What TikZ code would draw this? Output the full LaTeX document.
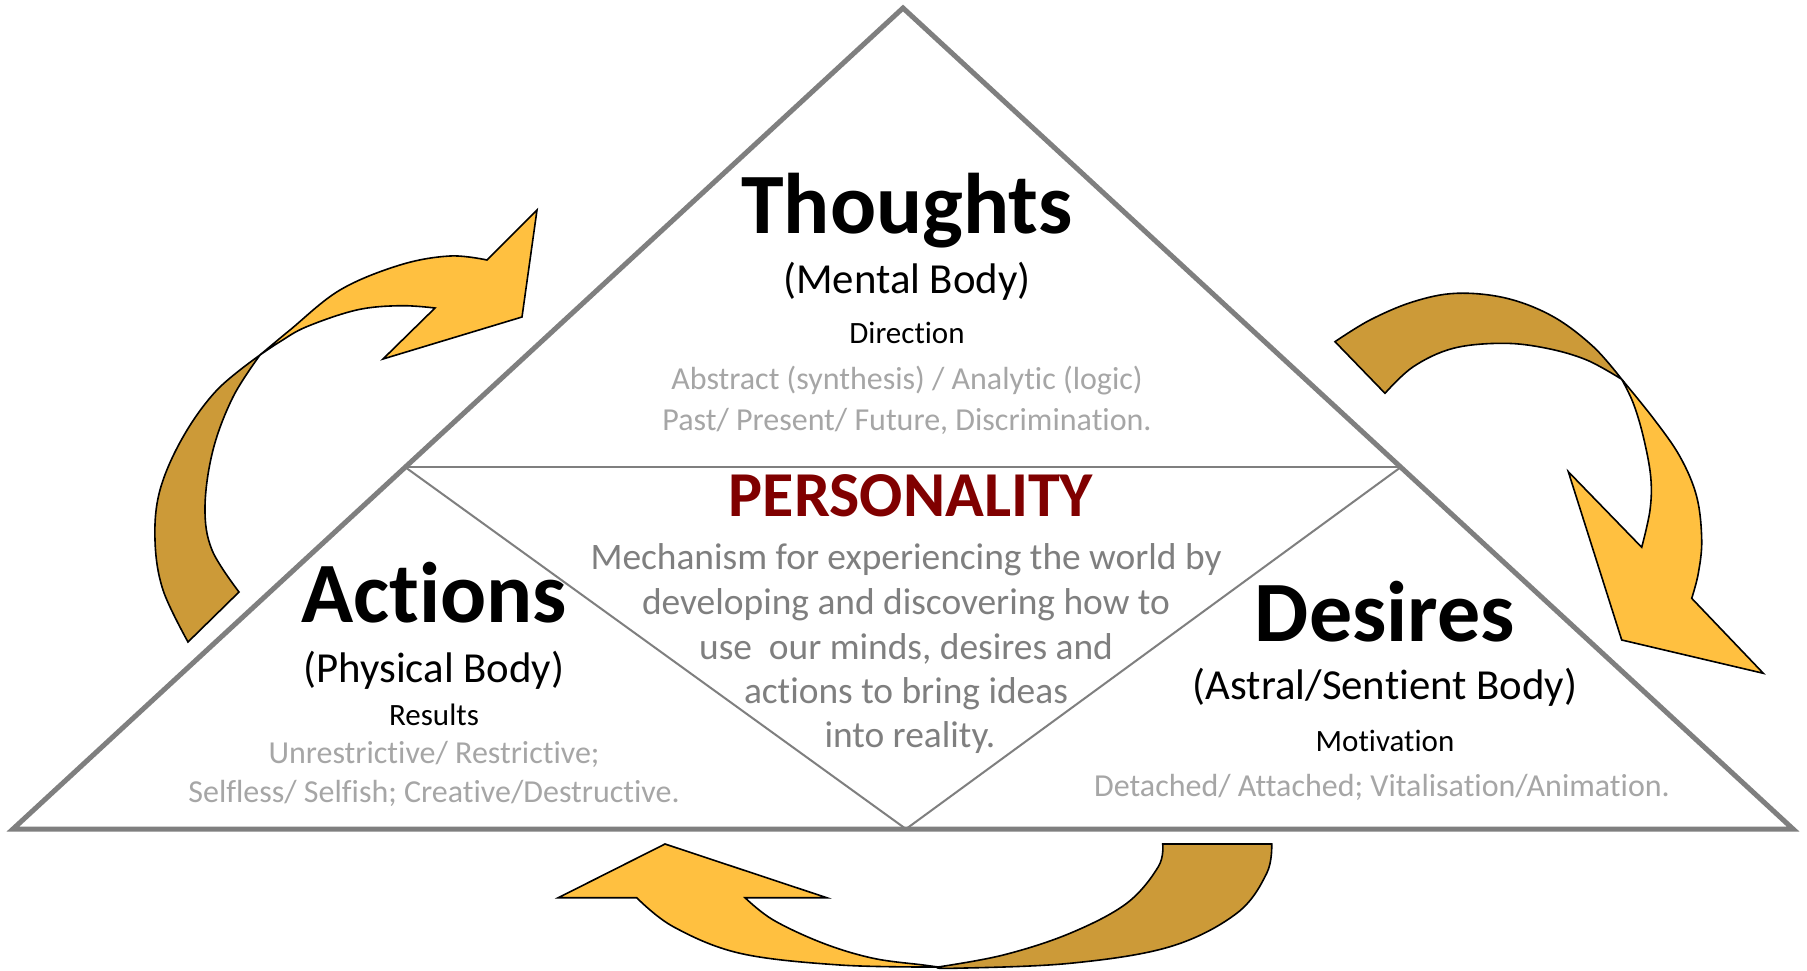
\documentclass[tikz,border=0pt]{standalone}
\usepackage{fontspec}
\setmainfont[Ligatures=NoCommon]{Carlito}
\definecolor{lightgold}{RGB}{255,192,64}
\definecolor{darkgold}{RGB}{204,154,56}
\definecolor{edgegray}{RGB}{127,127,127}
\definecolor{softgray}{RGB}{166,166,166}
\definecolor{deepred}{RGB}{128,0,0}
\begin{document}
\begin{tikzpicture}[x=1pt,y=-1pt,
  txt/.style={anchor=base,inner sep=0pt},
  title/.style={txt,font=\fontsize{86}{100}\selectfont\bfseries},
  sub/.style={txt,font=\fontsize{42.8}{50}\selectfont},
  keyword/.style={txt,font=\fontsize{31}{37}\selectfont},
  note/.style={txt,font=\fontsize{32}{38}\selectfont,text=softgray},
  para/.style={txt,font=\fontsize{37.4}{45}\selectfont,text=edgegray},
  heading/.style={txt,font=\fontsize{64}{76}\selectfont\bfseries,text=deepred},
  outer/.style={draw=edgegray,line width=5pt,line join=miter},
  inner/.style={draw=edgegray,line width=2pt},
  frontpart/.style={fill=lightgold,draw=black,line width=1.6pt,line join=miter},
  backpart/.style={fill=darkgold,draw=black,line width=1.6pt,line join=miter}]
\useasboundingbox (0,0) rectangle (1807,971);
\fill[white] (0,0) rectangle (1807,971);

% triangle
\coordinate (apex) at (903,8);
\coordinate (bl) at (13,829);
\coordinate (br) at (1793,829);
\coordinate (ml) at (405,467);
\coordinate (mr) at (1401,467);
\coordinate (bm) at (906,829);
\draw[inner] (ml) -- (mr);
\draw[inner] (ml) -- (bm) -- (mr);
\draw[outer] (apex) -- (bl) -- (br) -- cycle;

% left arrow
\path[backpart] (188,642) -- plot[smooth,tension=0.6] coordinates {(188,642) (163,590) (155,540) (160,490) (183,437) (217,390) (260,355)}
  -- plot[smooth,tension=0.6] coordinates {(260,355) (233,397) (213,450) (205,507) (212,550) (239,592)} -- cycle;
\path[frontpart] (260,355) -- plot[smooth,tension=0.6] coordinates {(260,355) (290,330) (340,290) (400,265) (450,256) (487,260)}
  -- (537,210) -- (522,317) -- (383,359)
  -- plot[smooth,tension=0.6] coordinates {(435,308) (400,305.7) (356.7,310) (306.7,326.7) (280,341.7) (260,355)} -- cycle;

% right arrow
\path[backpart] (1335,341.7) -- plot[smooth,tension=0.6] coordinates {(1335,341.7) (1370,320) (1413.3,301.7) (1456.7,293.3) (1506.7,298.3) (1553.3,316.7) (1593.3,346.7) (1621.7,379.3)}
  -- plot[smooth,tension=0.6] coordinates {(1621.7,379.3) (1586.7,360) (1546.7,348.3) (1503.3,343.3) (1453.3,348.3) (1413.3,366.7) (1385,393.3)} -- cycle;
\path[frontpart] (1621.7,379.3) -- plot[smooth,tension=0.6] coordinates {(1621.7,379.3) (1653.3,418.3) (1680,456.7) (1696.7,496.7) (1701.7,540) (1698.3,573.3) (1691.7,598.3)}
  -- (1763.3,673.3) -- (1621.7,640) -- (1568.3,471.7)
  -- plot[smooth,tension=0.6] coordinates {(1641.7,547.3) (1650,510) (1650.7,476.7) (1643.3,436.7) (1633.3,403.3) (1621.7,379.3)} -- cycle;

% bottom arrow
\path[backpart] (1162.7,844) -- (1271.7,844)
  -- plot[smooth,tension=0.6] coordinates {(1271.7,844) (1266.7,873.3) (1236.7,913.3) (1170,946.7) (1070,963.3) (953.3,968.3) (938,967)}
  -- plot[smooth,tension=0.6] coordinates {(938,967) (1003.3,955) (1070,933.3) (1126.7,903.3) (1158.3,866.7) (1162.7,844)} -- cycle;
\path[frontpart] (665,844) -- (826.7,897.7) -- (745,897.7)
  -- plot[smooth,tension=0.6] coordinates {(745,897.7) (773.3,920) (823.3,943.3) (873.3,958.3) (923.3,965) (938,967)}
  -- plot[smooth,tension=0.6] coordinates {(938,967) (840,965) (740,953.3) (673.3,926.7) (636.7,897.7)}
  -- (558.3,897.7) -- cycle;

% Thoughts
\node[title] (thoughts) at (907,233) {Thoughts};
\node[sub] (mental) at (907,293) {(Mental Body)};
\node[keyword] (direction) at (907,343) {Direction};
\node[note] (abstract) at (907,389) {Abstract (synthesis) / Analytic (logic)};
\node[note] (past) at (907,430) {Past/ Present/ Future, Discrimination.};

% Personality
\node[heading] (personality) at (911,516) {PERSONALITY};
\node[para] (p1) at (906,569) {Mechanism for experiencing the world by};
\node[para] (p2) at (906,614) {developing and discovering how to};
\node[para] (p3) at (906,659) {use\ \ our minds, desires and};
\node[para] (p4) at (906,703) {actions to bring ideas};
\node[para] (p5) at (910,747) {into reality.};

% Actions
\node[title] (actions) at (434,622) {Actions};
\node[sub] (physical) at (434,682) {(Physical Body)};
\node[keyword] (results) at (434,725) {Results};
\node[note] (unres) at (434,763) {Unrestrictive/ Restrictive;};
\node[note] (selfless) at (434,802) {Selfless/ Selfish; Creative/Destructive.};

% Desires
\node[title] (desires) at (1385,641) {Desires};
\node[sub] (astral) at (1385,699) {(Astral/Sentient Body)};
\node[keyword] (motivation) at (1385,751) {Motivation};
\node[note] (detached) at (1382,796) {Detached/ Attached; Vitalisation/Animation.};
\end{tikzpicture}
\end{document}
